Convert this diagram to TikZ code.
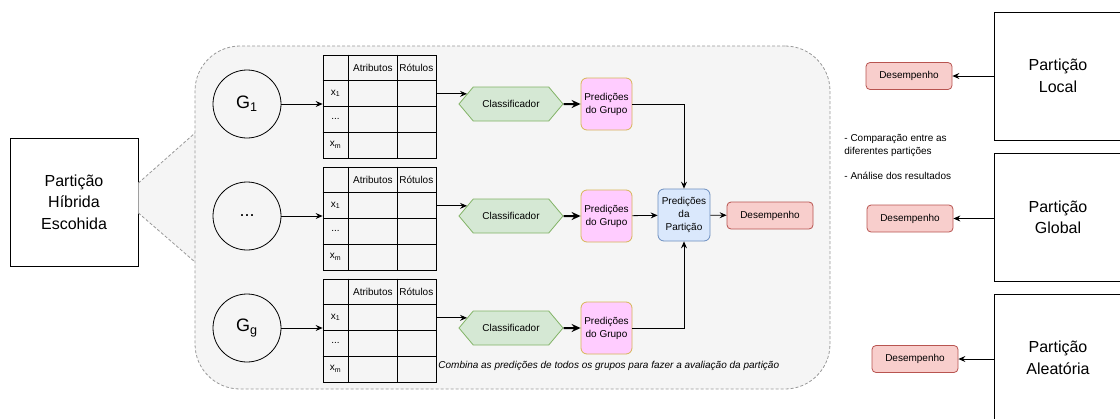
\documentclass[tikz,border=0pt]{standalone}
\usepackage{fontspec}
\setmainfont{Liberation Sans}
\usetikzlibrary{arrows.meta,shapes.symbols}

\definecolor{regionFill}{HTML}{F5F5F5}
\definecolor{regionLine}{HTML}{999999}
\definecolor{clsFill}{HTML}{D5E8D4}
\definecolor{clsLine}{HTML}{82B366}
\definecolor{predFill}{HTML}{FFCCFF}
\definecolor{predLine}{HTML}{D6B656}
\definecolor{partFill}{HTML}{DAE8FC}
\definecolor{partLine}{HTML}{6C8EBF}
\definecolor{perfFill}{HTML}{F8CECC}
\definecolor{perfLine}{HTML}{B85450}

\newcommand{\gdots}{...}

\tikzset{
  bigbox/.style={draw, minimum width=128pt, minimum height=128pt, align=center,
    font=\fontsize{16}{21.5}\selectfont},
  region/.style={draw=regionLine, fill=regionFill, dash pattern=on 3pt off 2pt,
    rounded corners=45pt, minimum width=635pt, minimum height=343pt},
  dashline/.style={draw=regionLine, dash pattern=on 3pt off 2pt},
  grpnode/.style={draw, circle, minimum size=68pt, inner sep=0pt,
    font=\fontsize{18}{20}\selectfont},
  tabbox/.style={draw, minimum width=113pt, minimum height=103pt, inner sep=0pt},
  cellnode/.style={inner sep=0pt, font=\fontsize{10}{12}\selectfont},
  clsnode/.style={signal, signal to=west and east, signal pointer angle=100,
    draw=clsLine, fill=clsFill, minimum width=104pt, minimum height=34pt,
    inner sep=0pt, font=\fontsize{10}{12}\selectfont},
  prednode/.style={draw=predLine, fill=predFill, rounded corners=6pt,
    minimum width=51pt, minimum height=52pt, align=center, inner sep=0pt,
    font=\fontsize{10}{13}\selectfont},
  partnode/.style={draw=partLine, fill=partFill, rounded corners=6pt,
    minimum width=52pt, minimum height=52pt, align=center, inner sep=0pt,
    font=\fontsize{10}{13}\selectfont},
  perfnode/.style={draw=perfLine, fill=perfFill, rounded corners=4pt,
    minimum width=86pt, minimum height=27pt, inner sep=0pt,
    font=\fontsize{10}{12}\selectfont},
  notenode/.style={inner sep=0pt, font=\fontsize{10}{12}\selectfont\itshape},
  sidenote/.style={inner sep=0pt, align=left, font=\fontsize{10}{12.7}\selectfont},
  thickarrow/.style={-{Stealth[length=9pt,width=8pt,inset=3pt]}, line width=2pt}
}

\begin{document}
\begin{tikzpicture}[x=1pt,y=-1pt,line width=0.8pt,
    >={Stealth[length=7pt,width=6pt,inset=2.5pt]}]
  \useasboundingbox (0,0) rectangle (1120,418);

  \node[bigbox] (hyb) at (74,202) {Partição\\Híbrida\\Escohida};
  \fill[regionFill] (hyb.east |- 0,183) -- (195,133) -- (195,262) -- (hyb.east |- 0,213) -- cycle;
  \draw[dashline] (hyb.east |- 0,183) -- (195,133) (hyb.east |- 0,213) -- (195,262);
  \node[region] (region) at (512.5,217.5) {};

  \foreach \i/\cy/\glbl in {1/104/G\textsubscript{1},2/216/\gdots,3/328/G\textsubscript{g}} {
    \node[grpnode] (grp\i) at (247,\cy) {\glbl};
    \node[tabbox] (tab\i) at (379.5,\cy+2.5) {};
    \draw (tab\i.north west) ++(26,0) -- ++(0,103);
    \draw (tab\i.north west) ++(74.5,0) -- ++(0,103);
    \foreach \r in {26,51.7,77.4}
      \draw (tab\i.north west) ++(0,\r) -- ++(113,0);
    \node[cellnode] (atr\i) at ([shift={(50.25,13)}]tab\i.north west) {Atributos};
    \node[cellnode] (rot\i) at ([shift={(93.75,13)}]tab\i.north west) {Rótulos};
    \node[cellnode] (xa\i) at ([shift={(13,38.8)}]tab\i.north west) {x\textsubscript{1}};
    \node[cellnode] (xd\i) at ([shift={(13,64.5)}]tab\i.north west) {...};
    \node[cellnode] (xm\i) at ([shift={(13,90.2)}]tab\i.north west) {x\textsubscript{m}};
    \node[clsnode] (cls\i) at (511,\cy) {Classificador};
    \node[prednode] (pred\i) at (606.5,\cy) {Predições\\do Grupo};
    \draw[->] (grp\i) -- (grp\i -| tab\i.west);
    \draw[->] (cls\i.167 -| tab\i.east) -- (cls\i.167);
    \draw[thickarrow] (cls\i) -- (pred\i);
  }

  \node[partnode] (part) at (684,215) {Predições\\da\\Partição};
  \node[perfnode] (perf) at (770,215.5) {Desempenho};
  \draw[->] (pred1) -| (part);
  \draw[->] (pred2) -- (part);
  \draw[->] (pred3) -| (part);
  \draw[->] (part) -- (perf);
  \node[notenode, anchor=west] (note) at (438,366) {Combina as predições de todos os grupos para fazer a avaliação da partição};

  \node[bigbox] (loc) at (1058,76) {Partição\\Local};
  \node[bigbox] (glo) at (1058,217.5) {Partição\\Global};
  \node[bigbox] (ale) at (1058,358) {Partição\\Aleatória};
  \node[perfnode] (perfL) at (909,76) {Desempenho};
  \node[perfnode] (perfG) at (910,218.5) {Desempenho};
  \node[perfnode] (perfA) at (915,359) {Desempenho};
  \draw[->] (perfL -| loc.west) -- (perfL);
  \draw[->] (perfG -| glo.west) -- (perfG);
  \draw[->] (perfA -| ale.west) -- (perfA);
  \node[sidenote, anchor=north west] (cmp) at (844,134) {- Comparação entre as\\diferentes partições\\[12.5pt]- Análise dos resultados};
\end{tikzpicture}
\end{document}
